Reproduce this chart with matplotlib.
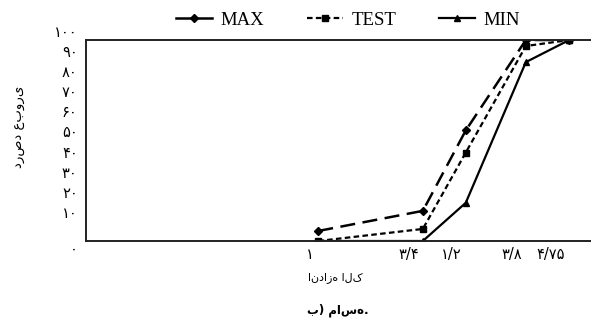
import matplotlib
matplotlib.use("Agg")
import matplotlib.pyplot as plt
import matplotlib.transforms as mtransforms

# ---- data ----
sieve_labels = ["۱", "۳/۴", "۱/۲", "۳/۸", "۴/۷۵"]
sieve_pos = [4.6, 6.67, 7.52, 8.71, 9.57]
max_vals = [5, 15, 55, 100, 100]
test_vals = [0, 6, 44, 97, 100]
min_vals = [0, 0, 19, 89, 100]
y_ticks = [0, 10, 20, 30, 40, 50, 60, 70, 80, 90, 100]
y_tick_labels = ["۰", "۱۰", "۲۰", "۳۰", "۴۰", "۵۰", "۶۰", "۷۰", "۸۰", "۹۰", "۱۰۰"]

fig = plt.figure(figsize=(5.91, 3.31), dpi=100)
ax = fig.add_axes([86/591, 90/331, 1 - 86/591, 201/331])

ax.plot(sieve_pos, max_vals, color="black", lw=1.8, ls=(0, (6, 3)),
        marker="D", ms=4, label="MAX")
ax.plot(sieve_pos, test_vals, color="black", lw=1.6, ls=(0, (2.5, 1.5)),
        marker="s", ms=5, label="TEST")
ax.plot(sieve_pos, min_vals, color="black", lw=1.6, ls="-",
        marker="^", ms=5, label="MIN")

ax.set_xlim(0, 10)
ax.set_ylim(0, 100)
for s in ["left", "top", "bottom"]:
    ax.spines[s].set_linewidth(1.4)
    ax.spines[s].set_color("#222222")
ax.spines["right"].set_visible(False)

ax.set_yticks(y_ticks)
ax.set_yticklabels(y_tick_labels, fontsize=10.5, family="DejaVu Sans")
ax.tick_params(axis="y", length=0, pad=6)
for v, t in zip(y_ticks, ax.get_yticklabels()):
    dy = -7 if v == 0 else 9
    t.set_transform(t.get_transform() + mtransforms.ScaledTranslation(0, dy/100, fig.dpi_scale_trans))

ax.set_xticks(sieve_pos)
ax.set_xticklabels(sieve_labels, fontsize=10.5, family="DejaVu Sans", ha="right")
ax.tick_params(axis="x", length=0, pad=4)
for t in ax.get_xticklabels():
    t.set_transform(t.get_transform() + mtransforms.ScaledTranslation(-4/100, 0, fig.dpi_scale_trans))

fig.text(20/591, 1 - 127/331, "درصد عبوری", rotation=90, ha="center", va="center",
         fontsize=9.5, family="DejaVu Sans")
fig.text(335/591, 1 - 278/331, "اندازه الک", ha="center", va="center",
         fontsize=8, family="DejaVu Sans")
fig.text(338/591, 1 - 310/331, "ب) ماسه.", ha="center", va="center",
         fontsize=8.5, family="DejaVu Sans", weight="bold")

leg = fig.legend(loc="center", bbox_to_anchor=(348/591, 1 - 20/331), ncol=3, frameon=False,
                 prop={"family": "Liberation Serif", "size": 13.5},
                 handlelength=1.9, handletextpad=0.45, columnspacing=2.3)
leg.get_lines()[0].set_linestyle("-")

fig.savefig("out.png", dpi=100)
